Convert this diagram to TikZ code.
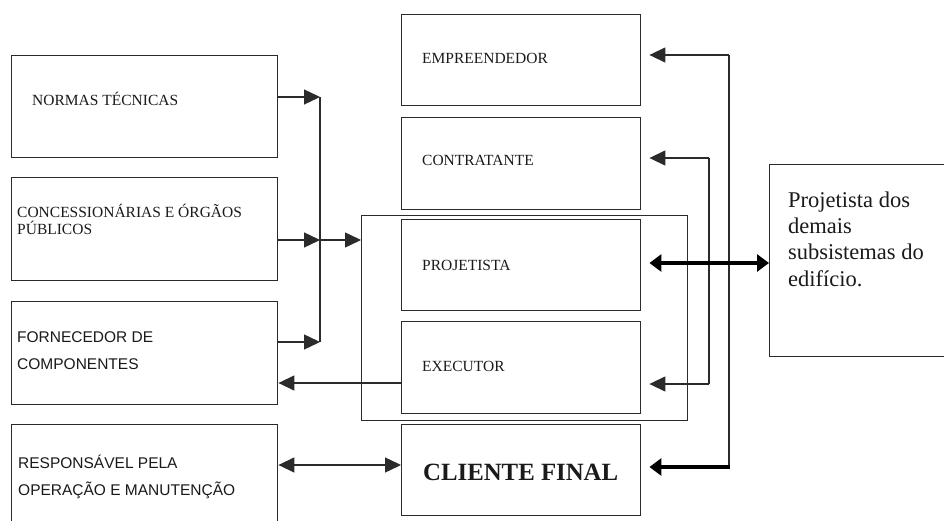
\documentclass[tikz,border=0pt]{standalone}
\usepackage{fontspec}
\setmainfont{Liberation Serif}
\newfontfamily\arialf{Liberation Sans}
\usetikzlibrary{arrows.meta}
\definecolor{ink}{HTML}{1A1A1A}
\definecolor{edge}{HTML}{2B2B2B}
\begin{document}
\begin{tikzpicture}[x=1pt,y=-1pt,
  box/.style={draw=edge,line width=1.4pt,inner sep=0pt,anchor=north west},
  lbl/.style={anchor=base west,inner sep=0pt,text=ink,font=\fontsize{15.5}{16.8}\selectfont},
  sanslbl/.style={anchor=base west,inner sep=0pt,text=ink,align=left,font=\arialf\fontsize{15.5}{27}\selectfont},
  conn/.style={draw=edge,line width=1.4pt},
  arr/.style={conn,-{Triangle[length=16pt,width=15pt]}},
  darr/.style={conn,{Triangle[length=16pt,width=15pt]}-{Triangle[length=16pt,width=15pt]}},
  thick arr/.style={draw=black,line width=4.5pt,-{Triangle[length=12pt,width=17pt]}},
  thick darr/.style={draw=black,line width=4.5pt,{Triangle[length=12pt,width=17pt]}-{Triangle[length=12pt,width=17pt]}}]
\useasboundingbox (0,0) rectangle (944,521);
\clip (0,0) rectangle (944,521);
\fill[white] (0,0) rectangle (944,521);

% left column
\node[box,minimum width=266pt,minimum height=102pt] (normas) at (11,55) {};
\node[box,minimum width=266pt,minimum height=103pt] (conc) at (11,177) {};
\node[box,minimum width=266pt,minimum height=103pt] (forn) at (11,301) {};
\node[box,minimum width=266pt,minimum height=116pt] (resp) at (11,424) {};

% middle column and the group frame
\node[box,minimum width=326pt,minimum height=205pt] (grupo) at (361,215) {};
\node[box,minimum width=239pt,minimum height=91pt] (empr) at (401,14) {};
\node[box,minimum width=239pt,minimum height=92pt] (contr) at (401,117) {};
\node[box,minimum width=239pt,minimum height=91pt] (proj) at (401,219) {};
\node[box,minimum width=239pt,minimum height=92pt] (exec) at (401,321) {};
\node[box,minimum width=239pt,minimum height=91pt] (cliente) at (401,424) {};

% right box
\node[box,minimum width=200pt,minimum height=192pt] (demais) at (769,164) {};

% labels (multi-line labels are anchored on their last baseline)
\node[lbl] (tnormas) at (32,106) {NORMAS TÉCNICAS};
\node[lbl,align=left] (tconc) at (17,234) {CONCESSIONÁRIAS E ÓRGÃOS\\PÚBLICOS};
\node[sanslbl] (tforn) at (17,369) {FORNECEDOR DE\\COMPONENTES};
\node[sanslbl] (tresp) at (18,495) {RESPONSÁVEL PELA\\OPERAÇÃO E MANUTENÇÃO};
\node[lbl] (tempr) at (422,64) {EMPREENDEDOR};
\node[lbl] (tcontr) at (422,166) {CONTRATANTE};
\node[lbl] (tproj) at (422,270) {PROJETISTA};
\node[lbl] (texec) at (422,371) {EXECUTOR};
\node[anchor=base west,inner sep=0pt,text=ink,font=\bfseries\fontsize{24.8}{28}\selectfont] (tcliente) at (423,480) {CLIENTE FINAL};
\node[anchor=base west,inner sep=0pt,text=ink,align=left,font=\fontsize{22.5}{26.3}\selectfont] (tdemais) at (788,286) {Projetista dos\\demais\\subsistemas do\\edifício.};

% junctions
\coordinate (jA) at (320,97);
\coordinate (jB) at (320,240);
\coordinate (jC) at (320,342);
\coordinate (rA) at (729,55);
\coordinate (rB) at (729,467);
\coordinate (sA) at (709,158);
\coordinate (sB) at (709,384);

% inputs to the group
\draw[conn] (jA) -- (jC);
\draw[arr] (normas.east |- jA) -- (jA);
\draw[arr] (conc.east |- jB) -- (jB);
\draw[arr] (forn.east |- jC) -- (jC);
\draw[arr] (jB) -- (grupo.west |- jB);

% executor to supplier, operator and final client
\draw[arr] (exec.west |- 0,383) -- (forn.east |- 0,383);
\draw[darr] (resp.east |- 0,465) -- (cliente.west |- 0,465);

% right-hand feedback lines
\draw[conn] (rA) -- (rB);
\draw[arr,shorten >=8pt] (rA) -- (empr.east |- rA);
\draw[thick arr,shorten >=8pt] ([xshift=0.7pt]rB) -- (cliente.east |- rB);
\draw[conn] (sA) -- (sB);
\draw[arr,shorten >=8pt] (sA) -- (contr.east |- sA);
\draw[arr,shorten >=8pt] (sB) -- (exec.east |- sB);

% designer <-> other subsystem designers
\draw[thick darr,shorten <=8pt] (proj.east |- 0,263) -- (demais.west |- 0,263);
\end{tikzpicture}
\end{document}
